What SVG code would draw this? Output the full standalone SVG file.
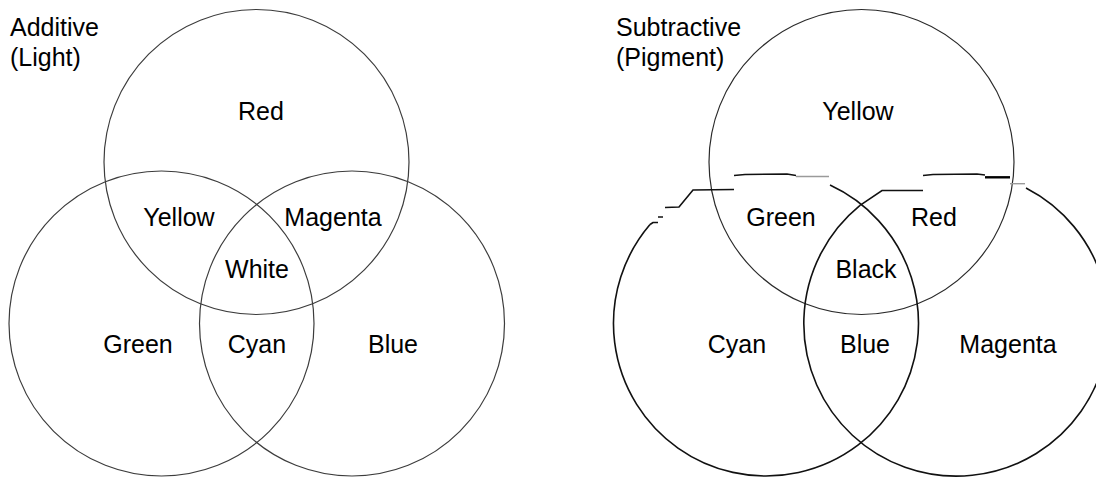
<svg xmlns="http://www.w3.org/2000/svg" width="1096" height="477" viewBox="0 0 1096 477">
<style>
  .bg { fill: #ffffff; }
  .c { fill: none; stroke: #3c3c3c; stroke-width: 1.2; }
  .cy { fill: none; stroke: #2a2a2a; stroke-width: 1.2; }
  .cb { fill: none; stroke: #111111; stroke-width: 1.6; }
  .cg { fill: none; stroke: #9a9a9a; stroke-width: 1.4; }
  .ck { fill: none; stroke: #000000; stroke-width: 2.4; }
  text { font-family: "Liberation Sans", Arial, sans-serif; font-size: 25px; fill: #000000; }
  .lab { text-anchor: middle; }
</style>
<rect class="bg" x="0" y="0" width="1096" height="477"/>

<g id="additive">
  <g id="title-additive">
    <text x="10" y="36">Additive</text>
    <text x="10" y="66">(Light)</text>
  </g>
  <g id="circle-red"><circle class="c" cx="256.5" cy="162" r="152.5"/></g>
  <g id="circle-green"><circle class="c" cx="161.5" cy="323.5" r="152.5"/></g>
  <g id="circle-blue"><circle class="c" cx="352" cy="323.5" r="152.5"/></g>
  <g id="labels-additive">
    <text class="lab" x="261" y="120">Red</text>
    <text class="lab" x="179" y="226">Yellow</text>
    <text class="lab" x="333" y="226">Magenta</text>
    <text class="lab" x="257" y="278">White</text>
    <text class="lab" x="138" y="353">Green</text>
    <text class="lab" x="257" y="353">Cyan</text>
    <text class="lab" x="393" y="353">Blue</text>
  </g>
</g>

<g id="subtractive">
  <g id="title-subtractive">
    <text x="616" y="36">Subtractive</text>
    <text x="616" y="66">(Pigment)</text>
  </g>
  <g id="circle-yellow"><circle class="cy" cx="861.5" cy="162" r="152.5"/></g>
  <g id="circle-cyan">
    <path class="cb" d="M650,224.5 A152.5,152.5 0 1 0 830,185.1"/>
    <path class="cb" d="M650,224.5 L653,222.5 L658,222.5 M658,217 L663,217 M665,207.5 L679,207 L693,190 L734,189.5 M734,175.5 L745,174.5 L787,174 L796,175.5"/>
    <path class="cg" d="M796,176.5 L829,176.5"/>
  </g>
  <g id="circle-magenta">
    <path class="cb" d="M860,205.4 A152.5,152.5 0 1 0 1026,188"/>
    <path class="cb" d="M860,205.4 L882,190.5 L923,190.5 M923,175.5 L933,174.5 L977,174 L985,175"/>
    <path class="ck" d="M985,177.3 L1010,177.3"/>
    <path class="cg" d="M1010,183.7 L1025,183.7"/>
  </g>
  <g id="labels-subtractive">
    <text class="lab" x="858" y="120">Yellow</text>
    <text class="lab" x="781" y="226">Green</text>
    <text class="lab" x="934" y="226">Red</text>
    <text class="lab" x="866" y="278">Black</text>
    <text class="lab" x="737" y="353">Cyan</text>
    <text class="lab" x="865" y="353">Blue</text>
    <text class="lab" x="1008" y="353">Magenta</text>
  </g>
</g>
<g id="connectors"></g>
</svg>
